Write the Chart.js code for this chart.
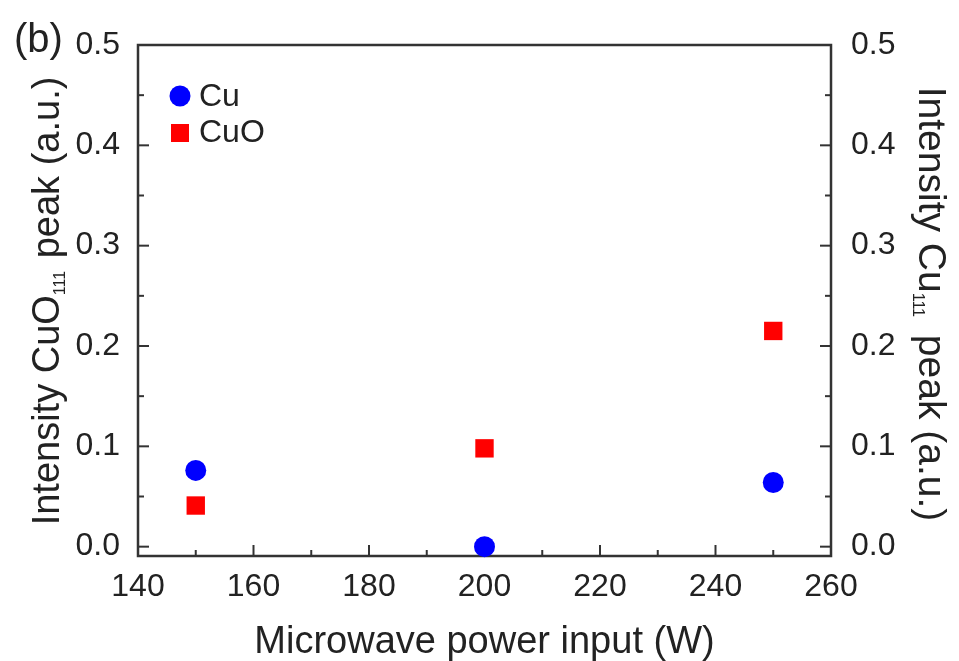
<!DOCTYPE html>
<html>
<head>
<meta charset="utf-8">
<script src="https://cdn.jsdelivr.net/npm/chart.js@4/dist/chart.umd.min.js"></script>
<style>
  html, body { margin: 0; padding: 0; background: #fff; }
  #wrap { width: 959px; height: 661px; }
</style>
</head>
<body>
<div id="wrap"><canvas id="peaks" width="959" height="661"></canvas></div>
<script>
// XRD peak intensity vs microwave power
const powerW = [150, 200, 250];
const cuPeak = [0.076, 0.0, 0.064];
const cuoPeak = [0.041, 0.098, 0.215];
const xTicks = [140, 160, 180, 200, 220, 240, 260];
const xMinor = [150, 170, 190, 210, 230, 250];
const yTicks = [0.0, 0.1, 0.2, 0.3, 0.4, 0.5];
const yMinor = [0.05, 0.15, 0.25, 0.35, 0.45];

const FONT = 'Arial, "Liberation Sans", sans-serif';
const INK = '#222';
const AXIS = '#333';

// frame + inward ticks on all four sides
const framePlugin = {
    id: 'frame',
    beforeDatasetsDraw(chart) {
        const { ctx, chartArea: a, scales } = chart;
        ctx.save();
        ctx.strokeStyle = AXIS;
        ctx.lineWidth = 2;
        const tick = (x1, y1, x2, y2) => { ctx.beginPath(); ctx.moveTo(x1, y1); ctx.lineTo(x2, y2); ctx.stroke(); };
        xTicks.forEach(v => { const x = scales.x.getPixelForValue(v); tick(x, a.bottom, x, a.bottom - 11); });
        xMinor.forEach(v => { const x = scales.x.getPixelForValue(v); tick(x, a.bottom, x, a.bottom - 6); });
        yTicks.forEach(v => {
            const y = scales.y.getPixelForValue(v); tick(a.left, y, a.left + 11, y);
            const y1 = scales.y1.getPixelForValue(v); tick(a.right, y1, a.right - 11, y1);
        });
        yMinor.forEach(v => {
            const y = scales.y.getPixelForValue(v); tick(a.left, y, a.left + 6, y);
            const y1 = scales.y1.getPixelForValue(v); tick(a.right, y1, a.right - 6, y1);
        });
        ctx.lineWidth = 2.5;
        ctx.strokeRect(a.left, a.top, a.right - a.left, a.bottom - a.top);
        ctx.restore();
    }
};

// vertical title with a subscript, centred on (cx, cy)
function drawSubTitle(ctx, cx, cy, angle, parts) {
    ctx.save();
    ctx.translate(cx, cy);
    ctx.rotate(angle);
    ctx.fillStyle = INK;
    ctx.textBaseline = 'alphabetic';
    let total = 0;
    parts.forEach(p => { ctx.font = p.size + 'px ' + FONT; p.w = ctx.measureText(p.text).width + (p.gap || 0); total += p.w; });
    let x = -total / 2;
    parts.forEach(p => {
        ctx.font = p.size + 'px ' + FONT;
        ctx.fillText(p.text, x, 13.5 + (p.shift || 0));
        x += p.w;
    });
    ctx.restore();
}

const labelPlugin = {
    id: 'labels',
    afterDraw(chart) {
        const { ctx, chartArea: a } = chart;
        drawSubTitle(ctx, 45, 301, -Math.PI / 2, [
            { text: 'Intensity CuO', size: 38 },
            { text: '111', size: 16, shift: 6, gap: 2 },
            { text: ' peak (a.u.)', size: 38 }
        ]);
        drawSubTitle(ctx, 932, 304, Math.PI / 2, [
            { text: 'Intensity Cu', size: 39 },
            { text: '111', size: 16, shift: 6, gap: 7 },
            { text: ' peak (a.u.)', size: 39 }
        ]);

        ctx.save();
        ctx.fillStyle = INK;
        ctx.textAlign = 'center';
        ctx.textBaseline = 'alphabetic';
        ctx.font = '38px ' + FONT;
        ctx.fillText('Microwave power input (W)', (a.left + a.right) / 2, 653);
        ctx.textAlign = 'left';
        ctx.font = '40px ' + FONT;
        ctx.fillText('(b)', 14, 52);

        // legend
        ctx.textBaseline = 'middle';
        ctx.font = '32px ' + FONT;
        ctx.fillStyle = '#0000ff';
        ctx.beginPath(); ctx.arc(180, 96, 10.5, 0, Math.PI * 2); ctx.fill();
        ctx.fillStyle = '#ff0000';
        ctx.fillRect(171, 124, 18, 18);
        ctx.fillStyle = INK;
        ctx.fillText('Cu', 199, 97);
        ctx.fillText('CuO', 199, 133);
        ctx.restore();
    }
};

const fixedWidth = w => scale => { scale.width = w; };

new Chart(document.getElementById('peaks'), {
    type: 'scatter',
    data: {
        datasets: [
            {
                label: 'Cu',
                data: powerW.map((x, i) => ({ x, y: cuPeak[i] })),
                yAxisID: 'y1',
                pointStyle: 'circle',
                pointRadius: 10.5,
                pointHoverRadius: 10.5,
                backgroundColor: '#0000ff',
                borderColor: '#0000ff',
                borderWidth: 0,
                clip: false
            },
            {
                label: 'CuO',
                data: powerW.map((x, i) => ({ x, y: cuoPeak[i] })),
                yAxisID: 'y',
                pointStyle: 'rect',
                pointRadius: 13,
                pointHoverRadius: 13,
                backgroundColor: '#ff0000',
                borderColor: '#ff0000',
                borderWidth: 0,
                clip: false
            }
        ]
    },
    options: {
        responsive: false,
        animation: false,
        layout: { padding: { top: 45, left: 0, right: 0, bottom: 0 } },
        plugins: { legend: { display: false }, tooltip: { enabled: false } },
        scales: {
            x: {
                type: 'linear', min: 140, max: 260,
                afterBuildTicks: s => { s.ticks = xTicks.map(value => ({ value })); },
                afterFit: s => { s.height = 105; },
                grid: { display: false },
                border: { display: false },
                ticks: { color: INK, font: { family: FONT, size: 32 }, padding: 4, maxRotation: 0 }
            },
            y: {
                type: 'linear', position: 'left', min: -0.0093, max: 0.5,
                afterBuildTicks: s => { s.ticks = yTicks.map(value => ({ value })); },
                afterFit: fixedWidth(138),
                grid: { display: false },
                border: { display: false },
                ticks: { color: INK, font: { family: FONT, size: 32 }, padding: 10, callback: v => v.toFixed(1) }
            },
            y1: {
                type: 'linear', position: 'right', min: -0.0093, max: 0.5,
                afterBuildTicks: s => { s.ticks = yTicks.map(value => ({ value })); },
                afterFit: fixedWidth(128),
                grid: { display: false },
                border: { display: false },
                ticks: { color: INK, font: { family: FONT, size: 32 }, padding: 12, callback: v => v.toFixed(1) }
            }
        }
    },
    plugins: [framePlugin, labelPlugin]
});
</script>
</body>
</html>
